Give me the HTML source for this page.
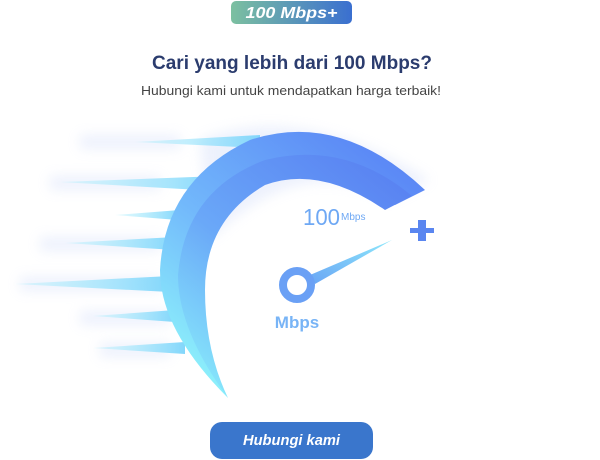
<!DOCTYPE html>
<html><head><meta charset="utf-8"><style>
html,body{margin:0;padding:0;background:#fff;width:600px;height:460px;overflow:hidden}
svg{display:block}
</style></head><body>
<svg width="600" height="460" viewBox="0 0 600 460" xmlns="http://www.w3.org/2000/svg">
<defs>
<linearGradient id="bg" x1="0" y1="0" x2="1" y2="0"><stop offset="0" stop-color="#7cc0a0"/><stop offset="1" stop-color="#3a6fd0"/></linearGradient>
<linearGradient id="arc" x1="0.2" y1="1" x2="0.9" y2="0.1"><stop offset="0" stop-color="#8ef4fb"/><stop offset="0.45" stop-color="#72b8fb"/><stop offset="1" stop-color="#5a86f5"/></linearGradient>
<linearGradient id="arc2" x1="0.2" y1="1" x2="0.9" y2="0.1"><stop offset="0" stop-color="#86e6fb"/><stop offset="0.45" stop-color="#6aa8f8"/><stop offset="1" stop-color="#5a84f2"/></linearGradient>
<linearGradient id="st" x1="0" y1="0" x2="1" y2="0"><stop offset="0" stop-color="#a8eefc" stop-opacity="0.3"/><stop offset="1" stop-color="#82d6fb"/></linearGradient>
<linearGradient id="nd" x1="0" y1="1" x2="1" y2="0"><stop offset="0" stop-color="#6aa6f5"/><stop offset="1" stop-color="#8ee8fb"/></linearGradient>
<filter id="blur"><feGaussianBlur stdDeviation="6"/></filter>
</defs>
<rect x="231" y="1" width="121" height="23" rx="5" fill="url(#bg)"/>
<text x="291.5" y="18" text-anchor="middle" font-family="Liberation Sans, sans-serif" font-weight="bold" font-style="italic" font-size="16" fill="#fff" textLength="92" lengthAdjust="spacingAndGlyphs">100 Mbps+</text>
<text x="292" y="69" text-anchor="middle" font-family="Liberation Sans, sans-serif" font-weight="bold" font-size="19" fill="#2b3c6e" textLength="280" lengthAdjust="spacingAndGlyphs">Cari yang lebih dari 100 Mbps?</text>
<text x="291" y="95" text-anchor="middle" font-family="Liberation Sans, sans-serif" font-size="12.5" fill="#444" textLength="300" lengthAdjust="spacingAndGlyphs">Hubungi kami untuk mendapatkan harga terbaik!</text>
<g filter="url(#blur)" opacity="0.25" fill="#b8c8f5">
<rect x="80" y="135" width="100" height="14"/><rect x="50" y="176" width="110" height="14"/><rect x="40" y="237" width="120" height="14"/><rect x="20" y="277" width="140" height="14"/><rect x="80" y="311" width="90" height="14"/><rect x="100" y="343" width="70" height="14"/>
<path d="M200 140 Q300 100 430 180 L390 200 Q300 150 210 240Z"/>
</g>
<g fill="url(#st)">
<polygon points="135,142 260,135 260,148"/>
<polygon points="60,182 220,176 200,190"/>
<polygon points="115,215 180,210 178,220"/>
<polygon points="65,243 175,237 175,250"/>
<polygon points="15,284 170,276 170,292"/>
<polygon points="93,316 175,310 175,322"/>
<polygon points="93,348 185,342 185,354"/>
</g>
<path d="M228,398 Q160,330 160,270 Q165,180 250,140 Q340,110 425,190 L395,205 Q330,150 260,175 Q190,215 190,290 Q195,350 228,398Z" fill="url(#arc)"/>
<path d="M228,398 Q178,330 178,275 Q185,190 265,160 Q345,140 412,196 L385,210 Q320,165 265,185 Q205,220 205,290 Q205,350 228,398Z" fill="url(#arc2)"/>
<text x="303" y="225" font-family="Liberation Sans, sans-serif" font-size="23" fill="#6ea8f4" textLength="37" lengthAdjust="spacingAndGlyphs">100</text>
<text x="341" y="220" font-family="Liberation Sans, sans-serif" font-size="10" fill="#6ea8f4">Mbps</text>
<path d="M418,220 h8 v8 h8 v5 h-8 v8 h-8 v-8 h-8 v-5 h8z" fill="#5a86f0"/>
<polygon points="310,275 392,240 315,284" fill="url(#nd)"/>
<circle cx="297" cy="285" r="14" fill="none" stroke="#6aa0f5" stroke-width="8"/>
<text x="297" y="328" text-anchor="middle" font-family="Liberation Sans, sans-serif" font-weight="bold" font-size="17" fill="#78b4f6">Mbps</text>
<rect x="210" y="422" width="163" height="37" rx="12" fill="#3a76cc"/>
<text x="291.5" y="445" text-anchor="middle" font-family="Liberation Sans, sans-serif" font-weight="bold" font-style="italic" font-size="15" fill="#fff" textLength="97" lengthAdjust="spacingAndGlyphs">Hubungi kami</text>
</svg>
</body></html>
